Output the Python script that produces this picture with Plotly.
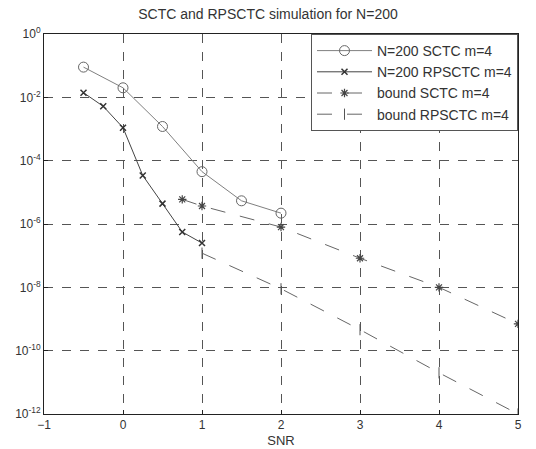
import plotly.graph_objects as go

snr_sctc = [-0.5, 0, 0.5, 1, 1.5, 2]
ber_sctc = [9e-2, 2e-2, 1.2e-3, 4.5e-5, 5.4e-6, 2.2e-6]

snr_rps = [-0.5, -0.25, 0, 0.25, 0.5, 0.75, 1]
ber_rps = [1.4e-2, 5.2e-3, 1.1e-3, 3.4e-5, 4.4e-6, 5.6e-7, 2.5e-7]

snr_bsctc = [0.75, 1, 2, 3, 4, 5]
ber_bsctc = [6e-6, 3.7e-6, 8e-7, 8.3e-8, 1e-8, 7e-10]

snr_brps = [1, 2, 3, 4, 5]
ber_brps = [1.2e-7, 9e-9, 4.6e-10, 2e-11, 1e-12]

ytick_vals = [1e0, 1e-2, 1e-4, 1e-6, 1e-8, 1e-10, 1e-12]
ytick_text = ["10<sup>0</sup>", "10<sup>-2</sup>", "10<sup>-4</sup>", "10<sup>-6</sup>",
              "10<sup>-8</sup>", "10<sup>-10</sup>", "10<sup>-12</sup>"]
xtick_vals = [-1, 0, 1, 2, 3, 4, 5]

fig = go.Figure()
fig.add_trace(go.Scatter(x=snr_sctc, y=ber_sctc, mode="lines+markers",
                         name="N=200 SCTC m=4",
                         line=dict(color="#808080", width=1),
                         marker=dict(symbol="circle-open", size=10, color="#666666", line=dict(width=1))))
fig.add_trace(go.Scatter(x=snr_rps, y=ber_rps, mode="lines+markers",
                         name="N=200 RPSCTC m=4",
                         line=dict(color="#444444", width=1),
                         marker=dict(symbol="x-thin-open", size=6, color="#333333", line=dict(width=1.5))))
fig.add_trace(go.Scatter(x=snr_bsctc, y=ber_bsctc, mode="lines+markers",
                         name="bound SCTC m=4",
                         line=dict(color="#666666", width=1, dash="longdash"),
                         marker=dict(symbol="asterisk-open", size=7, color="#444444", line=dict(width=1.2))))
fig.add_trace(go.Scatter(x=snr_brps, y=ber_brps, mode="lines+markers",
                         name="bound RPSCTC m=4",
                         line=dict(color="#666666", width=1, dash="longdash"),
                         marker=dict(symbol="line-ns-open", size=8, color="#555555", line=dict(width=1))))

fig.update_layout(
    width=536, height=449,
    margin=dict(l=44, r=18, t=34, b=35, autoexpand=False),
    paper_bgcolor="white", plot_bgcolor="white",
    font=dict(family="Liberation Sans, Arial, sans-serif", size=12, color="#333333"),
    title=dict(text="SCTC and RPSCTC simulation for N=200", x=0.5, xanchor="center",
               y=0.969, yanchor="middle", font=dict(size=14, color="#333333")),
    showlegend=True,
    legend=dict(x=1, y=1, xanchor="right", yanchor="top", bgcolor="white",
                bordercolor="#555555", borderwidth=1, font=dict(size=14, color="#333333"),
                itemwidth=55),
)
fig.update_xaxes(type="linear", range=[-1, 5], tickvals=xtick_vals, automargin=False,
                 showgrid=True, gridcolor="#555555", griddash="dash", gridwidth=1,
                 showline=True, linecolor="#222222", linewidth=1, mirror=True,
                 ticks="inside", ticklen=4, tickcolor="#222222", zeroline=False,
                 title=dict(text="SNR", standoff=4, font=dict(size=13)))
fig.update_yaxes(type="log", range=[-12, 0], tickvals=ytick_vals, ticktext=ytick_text,
                 automargin=False,
                 showgrid=True, gridcolor="#555555", griddash="dash", gridwidth=1,
                 showline=True, linecolor="#222222", linewidth=1, mirror=True,
                 ticks="inside", ticklen=4, tickcolor="#222222", zeroline=False)

fig.write_html("out.html", config={"displayModeBar": False},
               post_script="document.body.style.margin='0';document.body.style.overflow='hidden';")
